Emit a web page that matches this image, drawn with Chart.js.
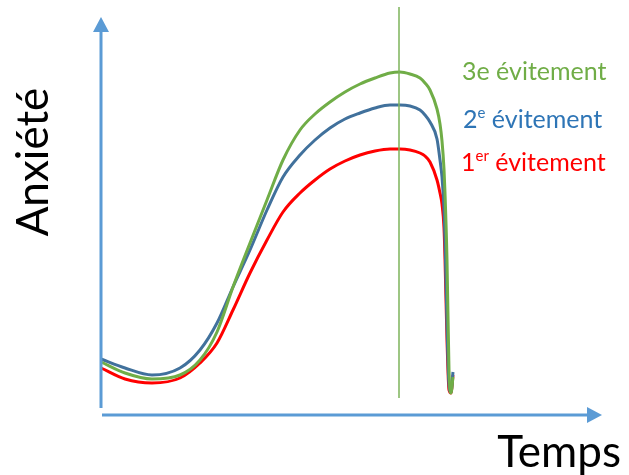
<!DOCTYPE html>
<html>
<head>
<meta charset="utf-8">
<script src="https://cdn.jsdelivr.net/npm/chart.js@4"></script>
<style>
  body{ margin:0; background:#fff; }
  #wrap{ position:relative; width:629px; height:475px; }
</style>
</head>
<body>
<div id="wrap"><canvas id="anxChart"></canvas></div>
<script>
// time points (x) shared by the three curves
const temps = [1,25,52,80,100,117,133,150,167,183,200,215,230,245,260,275,290,300,310,320,325,330,337,340,342,344,345,347,349,351,353];
// anxiety level for each avoidance
const evitement3 = [52,41,35,39,54,82,127,171,214,254,284,300,312,322,330,336,341,342,340,336,331,324,305,290,273,245,221,154,44,21,37];
const evitement2 = [55,46,39,46,64,91,127,164,204,237,259,274,286,295,301,306,309,309,308,304,299,292,275,254,237,205,175,88,29,22,42];
const evitement1 = [46,35,31,36,51,71,104,141,174,202,221,234,245,253,259,263,265,265,264,261,258,252,234,221,210,186,155,74,24,21,39];

const seriesNames = ["3e évitement", "2e évitement", "1er évitement"];
const axisX = "Temps";
const axisY = "Anxiété";
const seuil = 299;   // moment of the vertical marker

const pts = arr => arr.map((v,i) => ({ x: temps[i], y: v }));

const ctx = document.getElementById("anxChart");

const decor = {
    id: "decor",
    afterDatasetsDraw(chart){
        const c = chart.ctx;
        const sx = chart.scales.x, sy = chart.scales.y;
        const X = v => sx.getPixelForValue(v), Y = v => sy.getPixelForValue(v);
        const blue = "#5B9BD5";
        c.save();

        // vertical marker
        c.strokeStyle = "#7DB35A";
        c.lineWidth = 1.5;
        c.beginPath();
        c.moveTo(X(seuil), Y(407));
        c.lineTo(X(seuil), Y(16));
        c.stroke();

        // axes with arrow heads
        c.strokeStyle = blue; c.fillStyle = blue; c.lineWidth = 3;
        c.beginPath();
        c.moveTo(X(1), Y(6)); c.lineTo(X(1), Y(384));
        c.moveTo(X(2), Y(-1)); c.lineTo(X(488), Y(-1));
        c.stroke();
        c.beginPath();
        c.moveTo(X(1), Y(397)); c.lineTo(X(-7), Y(382)); c.lineTo(X(9), Y(382)); c.closePath();
        c.fill();
        c.beginPath();
        c.moveTo(X(502), Y(-1)); c.lineTo(X(487), Y(7)); c.lineTo(X(487), Y(-9)); c.closePath();
        c.fill();

        // series labels
        const font = "Lato, 'Open Sans', sans-serif";
        const label = (main, sup, rest, color, x, y) => {
            c.fillStyle = color;
            c.textBaseline = "alphabetic";
            c.font = "25px " + font;
            c.fillText(main, x, y);
            let w = c.measureText(main).width;
            if(sup){
                c.font = "15px " + font;
                c.fillText(sup, x + w, y - 10);
                w += c.measureText(sup).width;
                c.font = "25px " + font;
            }
            c.fillText(rest, x + w, y);
        };
        label("3e", "", " évitement", "#70AD47", X(362), 80);
        label("2", "e", " évitement", "#2E75B6", X(363), 128);
        label("1", "er", " évitement", "#FF0000", X(361), 171);

        // axis titles
        c.fillStyle = "#000";
        c.font = "44px " + font;
        c.textAlign = "right";
        c.fillText(axisX, 621, 467);
        c.translate(48, 162);
        c.rotate(-Math.PI/2);
        c.textAlign = "center";
        c.fillText(axisY, 0, 0);
        c.restore();
    }
};

new Chart(ctx, {
    type: "line",
    data: {
        datasets: [
            { label: seriesNames[0], data: pts(evitement3), borderColor: "#70AD47" },
            { label: seriesNames[1], data: pts(evitement2), borderColor: "#41719C" },
            { label: seriesNames[2], data: pts(evitement1), borderColor: "#FF0000" }
        ]
    },
    options: {
        responsive: true,
        maintainAspectRatio: false,
        animation: false,
        layout: { padding: { left: 100, right: 29, top: 14, bottom: 61 } },
        elements: {
            line: { borderWidth: 3, cubicInterpolationMode: "monotone" },
            point: { radius: 0 }
        },
        plugins: { legend: { display: false }, tooltip: { enabled: false } },
        scales: {
            x: { type: "linear", min: 0, max: 500, display: false },
            y: { min: 0, max: 400, display: false }
        }
    },
    plugins: [decor]
});
</script>
</body>
</html>
